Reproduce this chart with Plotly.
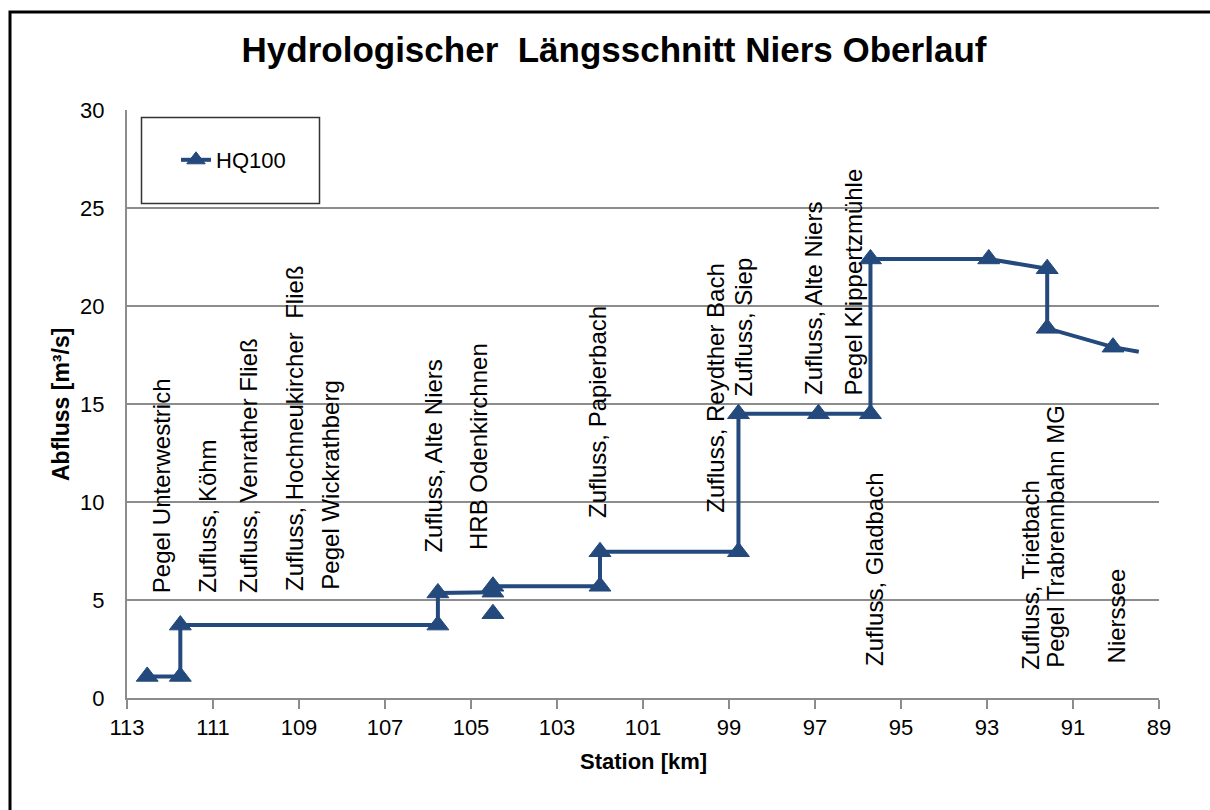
import plotly.graph_objects as go

# ---- data ----
station_km = [112.53, 111.76, 111.76, 105.77, 105.77, 104.49, None, 104.49, None, 104.49,
              102.0, 102.0, 98.78, 98.78, 96.92, 95.71, 95.71, 92.96, 91.60, 91.60, 90.07, 89.47]
hq100 = [1.1, 1.1, 3.72, 3.72, 5.36, 5.4, None, 4.3, None, 5.7,
         5.7, 7.46, 7.46, 14.5, 14.5, 14.5, 22.4, 22.4, 21.9, 18.86, 17.9, 17.67]
marker_shown = [1, 1, 1, 1, 1, 1, 1, 1, 1, 1, 1, 1, 1, 1, 1, 1, 1, 1, 1, 1, 1, 0]

label_texts = [
    "Pegel Unterwestrich", "Zufluss, Köhm", "Zufluss, Venrather Fließ",
    "Zufluss, Hochneukircher  Fließ", "Pegel Wickrathberg", "Zufluss, Alte Niers",
    "HRB Odenkirchnen", "Zufluss, Papierbach", "Zufluss, Reydther Bach",
    "Zufluss, Siep", "Zufluss, Alte Niers", "Pegel Klippertzmühle",
    "Zufluss, Gladbach", "Zufluss, Trietbach", "Pegel Trabrennbahn MG", "Nierssee",
]
label_km = [112.19, 111.13, 110.17, 109.09, 108.27, 105.88, 104.82, 102.07, 99.32,
            98.66, 97.03, 96.10, 95.60, 91.99, 91.41, 89.98]
label_level = [5.26, 5.26, 5.26, 5.34, 5.42, 7.30, 7.46, 9.08, 9.34,
               15.29, 15.37, 15.34, 1.52, 1.34, 1.43, 1.68]

x_ticks = list(range(113, 88, -2))
y_ticks = [0, 5, 10, 15, 20, 25, 30]

title_text = "Hydrologischer  Längsschnitt Niers Oberlauf"
x_title = "Station [km]"
y_title = "Abfluss [m³/s]"
series_name = "HQ100"

# ---- style ----
FONT = "Liberation Sans, Arial, sans-serif"
BLUE = "#24497C"
GRID = "#8C8C8C"
W, H = 1210, 810
L, R, T, B = 127, 1159, 110, 698  # plot area in px

def px_x(p):
    return (p - L) / (R - L)

def px_y(p):
    return 1 - (p - T) / (B - T)

fig = go.Figure()
fig.add_trace(go.Scatter(
    x=station_km, y=hq100, name=series_name, mode="lines+markers",
    line=dict(color=BLUE, width=4),
    marker=dict(symbol="triangle-up", color=BLUE, opacity=1,
                size=[19 * m for m in marker_shown],
                line=dict(color=BLUE, width=1)),
    connectgaps=False, showlegend=True,
))

annotations = []
for txt, km, lv in zip(label_texts, label_km, label_level):
    annotations.append(dict(
        x=km, y=lv, xref="x", yref="y", text=txt, textangle=-90,
        showarrow=False, xanchor="center", yanchor="bottom",
        font=dict(family=FONT, size=24, color="#000000"),
    ))

annotations.append(dict(
    x=px_x(61), y=px_y(405), xref="paper", yref="paper", text="<b>" + y_title + "</b>",
    textangle=-90, showarrow=False, xanchor="center", yanchor="middle",
    font=dict(family=FONT, size=23, color="#000000"),
))
annotations.append(dict(
    x=px_x(643), y=px_y(762), xref="paper", yref="paper", text="<b>" + x_title + "</b>",
    showarrow=False, xanchor="center", yanchor="middle",
    font=dict(family=FONT, size=22, color="#000000"),
))

shapes = [
    # outer frame
    dict(type="rect", xref="paper", yref="paper",
         x0=px_x(10), x1=px_x(1230), y0=px_y(830), y1=px_y(12),
         line=dict(color="#000000", width=3), fillcolor="rgba(0,0,0,0)", layer="above"),
    # legend box
    dict(type="rect", xref="paper", yref="paper",
         x0=px_x(141.5), x1=px_x(319.5), y0=px_y(203.5), y1=px_y(117.5),
         line=dict(color="#333333", width=1.5), fillcolor="#FFFFFF", layer="below"),
]

fig.update_layout(
    width=W, height=H,
    margin=dict(l=L, r=W - R, t=T, b=H - B, pad=0),
    paper_bgcolor="#FFFFFF", plot_bgcolor="#FFFFFF",
    title=dict(text="<b>" + title_text + "</b>", x=614 / W, xanchor="center",
               y=1 - 50 / H, yanchor="middle", xref="container", yref="container",
               font=dict(family=FONT, size=35, color="#000000")),
    font=dict(family=FONT, size=22, color="#000000"),
    showlegend=True,
    legend=dict(x=px_x(176), y=px_y(160), xanchor="left", yanchor="middle",
                bgcolor="rgba(0,0,0,0)", borderwidth=0,
                font=dict(family=FONT, size=22, color="#000000")),
    annotations=annotations,
    shapes=shapes,
)

fig.update_xaxes(
    range=[113, 89], tickvals=x_ticks, ticktext=[str(v) for v in x_ticks],
    showgrid=False, zeroline=False, showline=True, linecolor=GRID, linewidth=2,
    ticks="outside", ticklen=9, tickwidth=2, tickcolor=GRID,
    tickfont=dict(family=FONT, size=22, color="#000000"),
)
fig.update_yaxes(
    range=[0, 30], tickvals=y_ticks,
    showgrid=True, gridcolor=GRID, gridwidth=1.5, zeroline=False,
    showline=True, linecolor=GRID, linewidth=2, ticks="", ticklabelstandoff=16,
    tickfont=dict(family=FONT, size=22, color="#000000"),
)

fig.write_html("out.html", config={"displayModeBar": False},
               post_script="document.body.style.margin='0px';")
